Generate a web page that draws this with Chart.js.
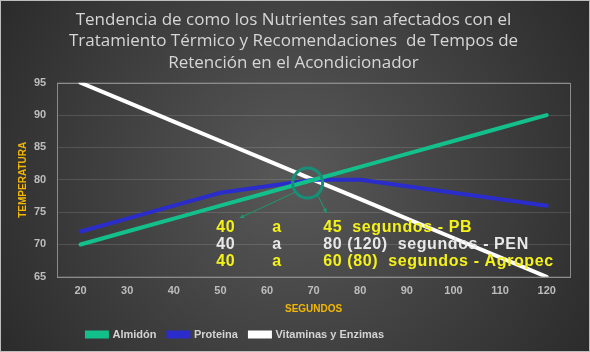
<!DOCTYPE html>
<html>
<head>
<meta charset="utf-8">
<script src="https://cdn.jsdelivr.net/npm/chart.js@4.4.1/dist/chart.umd.min.js"></script>
<style>
  html, body { margin: 0; padding: 0; background: #333; }
  #wrap { width: 590px; height: 352px; }
</style>
</head>
<body>
<div id="wrap"><canvas id="chart" width="590" height="352"></canvas></div>
<script>
const seconds = ["20", "30", "40", "50", "60", "70", "80", "90", "100", "110", "120"];
const almidon = [70, 72, 74, 76, 78, 80, 82, 84, 86, 88, 90];
const proteina = [72, 74, 76, 78, 79, 80, 80, 79, 78, 77, 76];
const vitaminas = [95, 92, 89, 86, 83, 80, 77, 74, 71, 68, 65];

const titleLines = [
    "Tendencia de como los Nutrientes san afectados con el",
    "Tratamiento Térmico y Recomendaciones  de Tempos de",
    "Retención en el Acondicionador"
];

// recommended retention times written over the plot
const notes = [
    { a: "40", b: "a", c: "45  segundos - PB", color: "#f5f21a" },
    { a: "40", b: "a", c: "80 (120)  segundos - PEN", color: "#e8e8e8" },
    { a: "40", b: "a", c: "60 (80)  segundos - Agropec", color: "#f5f21a" }
];

const bgPlugin = {
    id: "bg",
    beforeDraw(chart) {
        const ctx = chart.ctx;
        const w = chart.width, h = chart.height;
        const g = ctx.createRadialGradient(w / 2, h / 2, 20, w / 2, h / 2, w * 0.62);
        g.addColorStop(0, "#565656");
        g.addColorStop(1, "#282828");
        ctx.save();
        ctx.fillStyle = g;
        ctx.fillRect(0, 0, w, h);
        ctx.strokeStyle = "#bdbdbd";
        ctx.lineWidth = 1;
        ctx.strokeRect(0.5, 0.5, w - 1, h - 1);
        ctx.restore();
    },
    afterLayout(chart) {
        // legend sits left of centre in the original
        chart.legend.left -= 58;
        chart.legend.right -= 58;
    },
    beforeDatasetsDraw(chart) {
        const { ctx, chartArea: a } = chart;
        ctx.save();
        ctx.strokeStyle = "#8c8c8c";
        ctx.lineWidth = 1;
        ctx.strokeRect(Math.round(a.left) + 0.5, Math.round(a.top) + 0.5, Math.round(a.width), Math.round(a.height));
        ctx.restore();
    },
    afterDatasetsDraw(chart) {
        const { ctx, chartArea: a, scales } = chart;
        const x = scales.x, y = scales.y;
        const cx = x.getPixelForValue(5) - 6;
        const cy = y.getPixelForValue(79.5);
        ctx.save();
        ctx.strokeStyle = "#178f78";
        ctx.lineWidth = 3;
        ctx.beginPath();
        ctx.arc(cx, cy, 15, 0, Math.PI * 2);
        ctx.stroke();

        function arrow(x0, y0, x1, y1) {
            ctx.strokeStyle = "#1f9a6a";
            ctx.fillStyle = "#1f9a6a";
            ctx.lineWidth = 1;
            ctx.beginPath();
            ctx.moveTo(x0, y0);
            ctx.lineTo(x1, y1);
            ctx.stroke();
            const ang = Math.atan2(y1 - y0, x1 - x0);
            ctx.beginPath();
            ctx.moveTo(x1, y1);
            ctx.lineTo(x1 - 5 * Math.cos(ang - 0.45), y1 - 5 * Math.sin(ang - 0.45));
            ctx.lineTo(x1 - 5 * Math.cos(ang + 0.45), y1 - 5 * Math.sin(ang + 0.45));
            ctx.closePath();
            ctx.fill();
        }
        arrow(cx - 12, cy + 9, cx - 68, cy + 35);
        arrow(cx + 10, cy + 12, cx + 19, cy + 30);

        ctx.font = "bold 16px 'Liberation Sans', Arial, sans-serif";
        ctx.letterSpacing = "0.6px";
        ctx.textBaseline = "middle";
        ctx.textAlign = "left";
        const rowY = [72.6, 70.0, 67.3];
        const colA = a.left + 159, colB = a.left + 215, colC = a.left + 266;
        notes.forEach((n, i) => {
            const ty = y.getPixelForValue(rowY[i]);
            ctx.fillStyle = n.color;
            ctx.fillText(n.a, colA, ty);
            ctx.fillText(n.b, colB, ty);
            ctx.fillText(n.c, colC, ty);
        });
        ctx.restore();
    }
};

const tickFont = { family: "'Liberation Sans', Arial, sans-serif", size: 11, weight: "bold" };
const axisTitleFont = { family: "'Liberation Sans', Arial, sans-serif", size: 10, weight: "bold" };

new Chart(document.getElementById("chart"), {
    type: "line",
    data: {
        labels: seconds,
        datasets: [
            { label: "Almidón", data: almidon, borderColor: "#13c08c", backgroundColor: "#13c08c" },
            { label: "Proteina", data: proteina, borderColor: "#2a2ccc", backgroundColor: "#2a2ccc" },
            { label: "Vitaminas y Enzimas", data: vitaminas, borderColor: "#ffffff", backgroundColor: "#ffffff" }
        ]
    },
    options: {
        responsive: false,
        animation: false,
        layout: { padding: { left: 17, right: 20, top: 0, bottom: 2 } },
        elements: {
            line: { borderWidth: 4, tension: 0, borderCapStyle: "round" },
            point: { radius: 0 }
        },
        plugins: {
            title: {
                display: true,
                text: titleLines,
                color: "#d6d6d6",
                font: { family: "'Open Sans', sans-serif", size: 17, weight: "normal", lineHeight: 1.27 },
                padding: { top: 9, bottom: 9 }
            },
            legend: {
                position: "bottom",
                labels: {
                    color: "#d4d4d4",
                    font: { family: "'Liberation Sans', Arial, sans-serif", size: 11, weight: "bold" },
                    boxWidth: 20,
                    boxHeight: 4,
                    padding: 12
                }
            },
            tooltip: { enabled: false }
        },
        scales: {
            x: {
                offset: true,
                grid: { display: false, drawTicks: false },
                border: { display: false },
                ticks: { color: "#bdbdbd", font: tickFont, padding: 8, maxRotation: 0 },
                title: { display: true, text: "SEGUNDOS", color: "#f2b705", font: axisTitleFont, padding: { top: -3, bottom: 2 } }
            },
            y: {
                min: 65,
                max: 95,
                grid: { color: "rgba(255,255,255,0.13)", drawTicks: false },
                border: { display: false },
                ticks: { stepSize: 5, color: "#bdbdbd", font: tickFont, padding: 11 },
                title: { display: true, text: "TEMPERATURA", color: "#f2b705", font: axisTitleFont, padding: { top: 0, bottom: -6 } }
            }
        }
    },
    plugins: [bgPlugin]
});
</script>
</body>
</html>
